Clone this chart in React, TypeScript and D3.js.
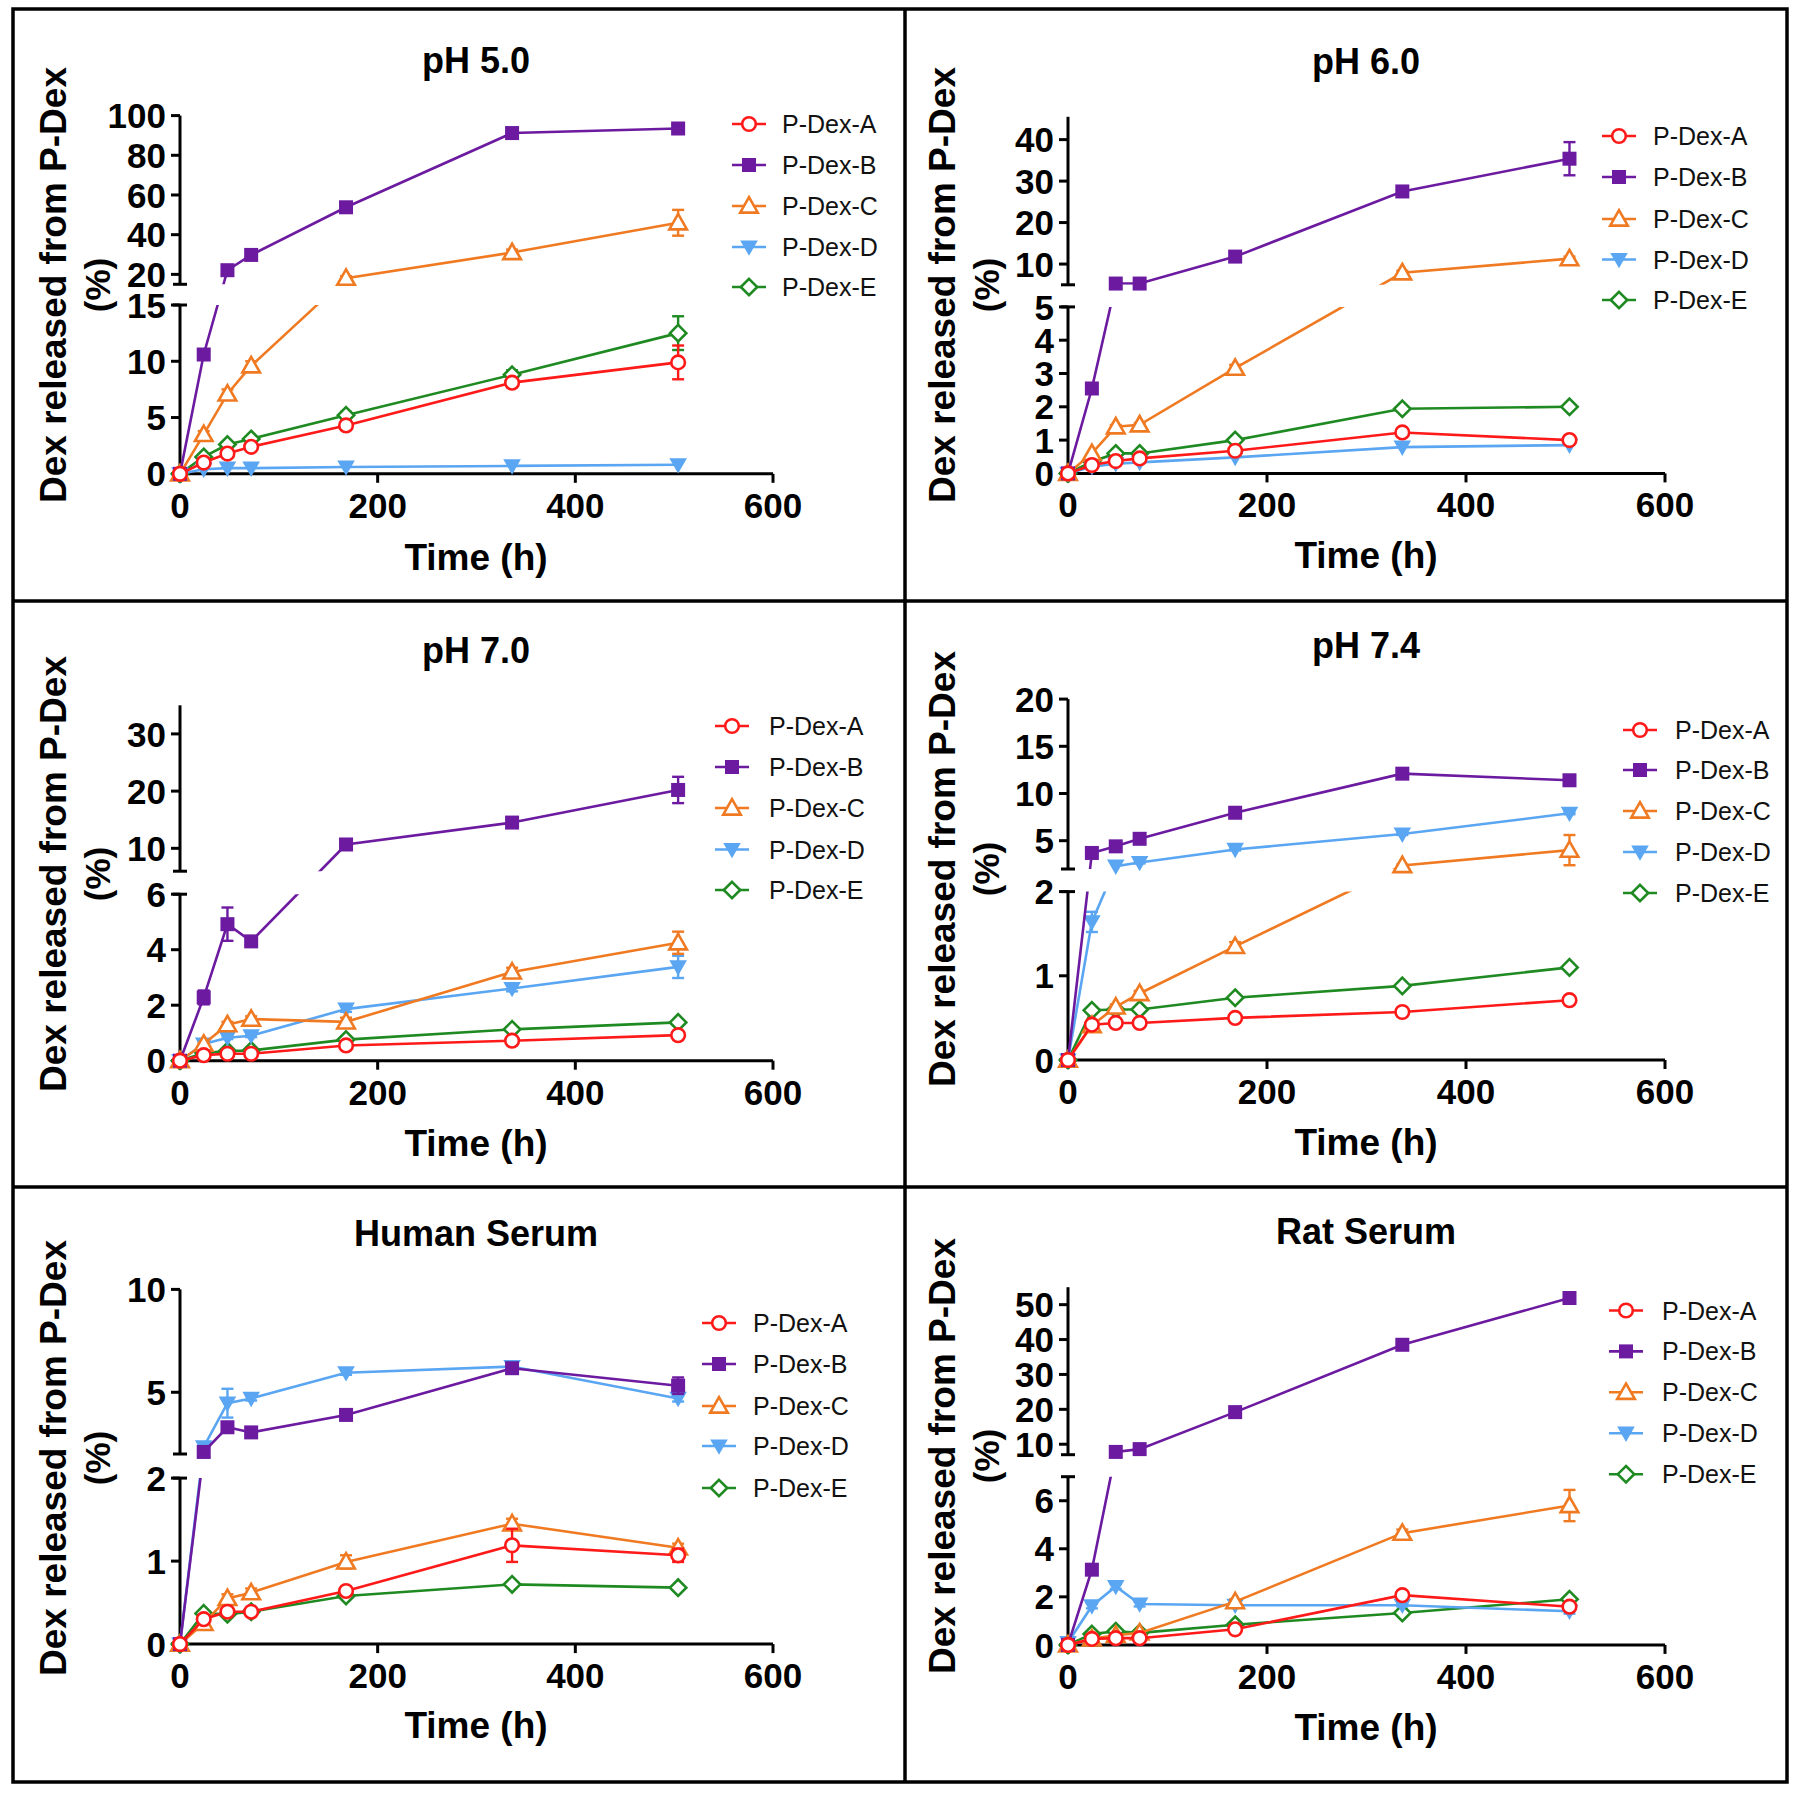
import React from "react";
import * as d3 from "d3";

// ---------- DATA ----------
const TIMES = [0, 24, 48, 72, 168, 336, 504];
const SERIES = ["P-Dex-A", "P-Dex-B", "P-Dex-C", "P-Dex-D", "P-Dex-E"];
const X_DOMAIN = [0, 600];
const X_TICKS = [0, 200, 400, 600];
const PANEL_TITLES = ["pH 5.0", "pH 6.0", "pH 7.0", "pH 7.4", "Human Serum", "Rat Serum"];
const Y_TITLE = "Dex released from P-Dex";
const Y_TITLE_2 = "(%)";
const X_TITLE = "Time (h)";

// pH 5.0
const PH50_VALUES = [
  [0, 1.0, 1.8, 2.4, 4.3, 8.1, 9.9],
  [0, 10.6, 22.1, 29.8, 53.8, 91.2, 93.5],
  [0, 3.5, 7.1, 9.6, 18.1, 31, 46],
  [0, 0.4, 0.5, 0.5, 0.6, 0.7, 0.8],
  [0, 1.5, 2.6, 3.1, 5.2, 8.8, 12.5],
];
const PH50_ERRORS = [
  [0, 0.2, 0.2, 0.2, 0.3, 0.4, 1.5],
  [0, 0.4, 1, 1, 1.5, 1.5, 1.5],
  [0, 0.3, 0.4, 0.4, 1, 1.5, 6.5],
  [0, 0, 0, 0, 0, 0, 0],
  [0, 0.2, 0.2, 0.2, 0.3, 0.4, 1.5],
];
const PH50_LOWER = [0, 15];
const PH50_UPPER = [15, 100];
const PH50_LOWER_TICKS = [0, 5, 10, 15];
const PH50_UPPER_TICKS = [20, 40, 60, 80, 100];

// pH 6.0
const PH60_VALUES = [
  [0, 0.25, 0.37, 0.45, 0.68, 1.23, 1.0],
  [0, 2.55, 5.3, 5.3, 11.8, 27.5, 35.4],
  [0, 0.6, 1.4, 1.46, 3.16, 7.9, 11.3],
  [0, 0.2, 0.29, 0.33, 0.48, 0.79, 0.85],
  [0, 0.35, 0.6, 0.6, 1.0, 1.94, 2.0],
];
const PH60_ERRORS = [
  [0, 0, 0, 0, 0, 0.05, 0.05],
  [0, 0.1, 0, 0, 0.5, 0.8, 4],
  [0, 0, 0.05, 0.05, 0.1, 0.5, 0.5],
  [0, 0, 0, 0, 0, 0, 0],
  [0, 0, 0, 0, 0, 0.05, 0.05],
];
const PH60_LOWER = [0, 5];
const PH60_UPPER = [5, 45.5];
const PH60_LOWER_TICKS = [0, 1, 2, 3, 4, 5];
const PH60_UPPER_TICKS = [10, 20, 30, 40];

// pH 7.0
const PH70_VALUES = [
  [0, 0.2, 0.25, 0.25, 0.55, 0.72, 0.92],
  [0, 2.28, 4.92, 4.3, 10.67, 14.5, 20.2],
  [0, 0.6, 1.3, 1.5, 1.4, 3.2, 4.25],
  [0, 0.6, 0.83, 0.9, 1.86, 2.6, 3.38],
  [0, 0.28, 0.35, 0.37, 0.76, 1.13, 1.38],
];
const PH70_ERRORS = [
  [0, 0, 0, 0, 0, 0.05, 0.05],
  [0, 0.25, 0.6, 0.1, 0.3, 0.4, 2.3],
  [0, 0.05, 0.1, 0.1, 0.15, 0.15, 0.4],
  [0, 0.05, 0.05, 0.05, 0.1, 0.1, 0.4],
  [0, 0, 0, 0, 0, 0.05, 0.05],
];
const PH70_LOWER = [0, 6];
const PH70_UPPER = [6, 35];
const PH70_LOWER_TICKS = [0, 2, 4, 6];
const PH70_UPPER_TICKS = [10, 20, 30];

// pH 7.4
const PH74_VALUES = [
  [0, 0.42, 0.44, 0.44, 0.5, 0.57, 0.71],
  [0, 3.7, 4.4, 5.2, 7.96, 12.1, 11.4],
  [0, 0.41, 0.63, 0.79, 1.35, 2.37, 4.0],
  [0, 1.64, 2.3, 2.69, 4.07, 5.7, 7.9],
  [0, 0.59, 0.6, 0.6, 0.74, 0.88, 1.1],
];
const PH74_ERRORS = [
  [0, 0, 0, 0, 0, 0, 0],
  [0, 0.1, 0.1, 0.1, 0.1, 0.2, 0.2],
  [0, 0.03, 0.03, 0.03, 0.05, 0.1, 1.6],
  [0, 0.12, 0, 0.1, 0.1, 0.1, 0.1],
  [0, 0, 0, 0, 0, 0, 0],
];
const PH74_LOWER = [0, 2];
const PH74_UPPER = [2, 20];
const PH74_LOWER_TICKS = [0, 1, 2];
const PH74_UPPER_TICKS = [5, 10, 15, 20];

// Human serum
const HS_VALUES = [
  [0, 0.3, 0.39, 0.39, 0.64, 1.19, 1.07],
  [0, 2.1, 3.3, 3.05, 3.9, 6.17, 5.32],
  [0, 0.25, 0.55, 0.62, 0.99, 1.45, 1.16],
  [0, 2.35, 4.47, 4.7, 5.95, 6.25, 4.7],
  [0, 0.37, 0.36, 0.39, 0.58, 0.72, 0.68],
];
const HS_ERRORS = [
  [0, 0.03, 0.03, 0.03, 0.03, 0.2, 0.08],
  [0, 0, 0.15, 0.1, 0.1, 0.15, 0.4],
  [0, 0.03, 0.05, 0.05, 0.08, 0.06, 0.05],
  [0, 0.1, 0.7, 0.1, 0.1, 0.1, 0.15],
  [0, 0, 0, 0, 0, 0, 0],
];
const HS_LOWER = [0, 2];
const HS_UPPER = [2, 10];
const HS_LOWER_TICKS = [0, 1, 2];
const HS_UPPER_TICKS = [5, 10];

// Rat serum
const RS_VALUES = [
  [0, 0.25, 0.28, 0.28, 0.65, 2.07, 1.59],
  [0, 3.13, 7.8, 8.6, 19.2, 38.5, 51.9],
  [0, 0.25, 0.4, 0.5, 1.8, 4.65, 5.8],
  [0.1, 1.62, 2.43, 1.7, 1.65, 1.65, 1.4],
  [0, 0.45, 0.57, 0.5, 0.84, 1.33, 1.9],
];
const RS_ERRORS = [
  [0, 0, 0, 0, 0.05, 0.1, 0.1],
  [0, 0.1, 0, 0.2, 0.3, 0.5, 0.6],
  [0, 0, 0.05, 0.05, 0.1, 0.15, 0.65],
  [0, 0.1, 0.1, 0.1, 0.05, 0.05, 0.1],
  [0, 0, 0, 0, 0.05, 0.05, 0.05],
];
const RS_LOWER = [0, 7];
const RS_UPPER = [7, 55];
const RS_LOWER_TICKS = [0, 2, 4, 6];
const RS_UPPER_TICKS = [10, 20, 30, 40, 50];

// ---------- STYLE / LAYOUT ----------
const COLORS = ["#ff1a1a", "#6c1aa0", "#f07a22", "#5aa6f2", "#1f8a22"];
const MARKERS = ["circle", "square", "triangleUp", "triangleDown", "diamond"];
const DRAW_ORDER = [4, 3, 2, 1, 0];
const FONT = "'Liberation Sans', Arial, Helvetica, sans-serif";

const LEFT = { axisX: 180, xEnd: 773, titleX: 476, yTitleX: [53, 97] };
const RIGHT = { axisX: 1068, xEnd: 1665, titleX: 1366, yTitleX: [942, 986] };

const PANELS = [
  {
    ...LEFT, values: PH50_VALUES, errors: PH50_ERRORS, lower: PH50_LOWER, upper: PH50_UPPER,
    lowerTicks: PH50_LOWER_TICKS, upperTicks: PH50_UPPER_TICKS,
    titleY: 73, y0: 473.8, lowTop: 305, upBottom: 284.3, upTop: 115.6,
    xTitleY: 570, yTitleY: 285, legX: 749, legTextX: 782, legY: [124, 165, 206, 247, 287],
  },
  {
    ...RIGHT, values: PH60_VALUES, errors: PH60_ERRORS, lower: PH60_LOWER, upper: PH60_UPPER,
    lowerTicks: PH60_LOWER_TICKS, upperTicks: PH60_UPPER_TICKS,
    titleY: 73.5, y0: 473.4, lowTop: 306.9, upBottom: 284.8, upTop: 116.8,
    xTitleY: 568, yTitleY: 285, legX: 1619, legTextX: 1653, legY: [136, 177, 219, 259.5, 300],
  },
  {
    ...LEFT, values: PH70_VALUES, errors: PH70_ERRORS, lower: PH70_LOWER, upper: PH70_UPPER,
    lowerTicks: PH70_LOWER_TICKS, upperTicks: PH70_UPPER_TICKS,
    titleY: 663, y0: 1060.7, lowTop: 894.2, upBottom: 871.2, upTop: 705.3,
    xTitleY: 1156, yTitleY: 874, legX: 732, legTextX: 769, legY: [726, 767, 808, 849.5, 890],
  },
  {
    ...RIGHT, values: PH74_VALUES, errors: PH74_ERRORS, lower: PH74_LOWER, upper: PH74_UPPER,
    lowerTicks: PH74_LOWER_TICKS, upperTicks: PH74_UPPER_TICKS,
    titleY: 658, y0: 1060, lowTop: 891.6, upBottom: 869, upTop: 699.1,
    xTitleY: 1154.5, yTitleY: 869, legX: 1640, legTextX: 1675, legY: [730, 770, 811, 852, 893],
  },
  {
    ...LEFT, values: HS_VALUES, errors: HS_ERRORS, lower: HS_LOWER, upper: HS_UPPER,
    lowerTicks: HS_LOWER_TICKS, upperTicks: HS_UPPER_TICKS,
    titleY: 1245.5, y0: 1644.1, lowTop: 1478.1, upBottom: 1454, upTop: 1289.4,
    xTitleY: 1738, yTitleY: 1458, legX: 719, legTextX: 753, legY: [1323, 1364, 1406, 1446, 1488],
  },
  {
    ...RIGHT, values: RS_VALUES, errors: RS_ERRORS, lower: RS_LOWER, upper: RS_UPPER,
    lowerTicks: RS_LOWER_TICKS, upperTicks: RS_UPPER_TICKS,
    titleY: 1243.5, y0: 1644.9, lowTop: 1476.7, upBottom: 1454.7, upTop: 1287.2,
    xTitleY: 1740, yTitleY: 1456, legX: 1626, legTextX: 1662, legY: [1310.5, 1351.4, 1392.3, 1433.2, 1474.2],
  },
];

function Marker({ type, x, y, color }: { type: string; x: number; y: number; color: string }) {
  const sw = 2.6;
  if (type === "circle") return <circle cx={x} cy={y} r={6.8} fill="#fff" stroke={color} strokeWidth={sw} />;
  if (type === "square") return <rect x={x - 7} y={y - 7} width={14} height={14} fill={color} />;
  if (type === "triangleUp") {
    const s = 8.8;
    return <path d={`M${x},${y - s}L${x + s},${y + s * 0.75}L${x - s},${y + s * 0.75}Z`} fill="#fff" stroke={color} strokeWidth={sw} strokeLinejoin="miter" />;
  }
  if (type === "triangleDown") {
    const s = 8.8;
    return <path d={`M${x - s},${y - s * 0.75}L${x + s},${y - s * 0.75}L${x},${y + s}Z`} fill={color} />;
  }
  const s = 8.2;
  return <path d={`M${x},${y - s}L${x + s},${y}L${x},${y + s}L${x - s},${y}Z`} fill="#fff" stroke={color} strokeWidth={sw} />;
}

function Panel({ p, idx }: { p: any; idx: number }) {
  const x = d3.scaleLinear().domain(X_DOMAIN).range([p.axisX, p.xEnd]);
  const lo = d3.scaleLinear().domain(p.lower).range([p.y0, p.lowTop]);
  const hi = d3.scaleLinear().domain(p.upper).range([p.upBottom, p.upTop]);
  const y = (v: number) => (v <= p.lower[1] ? lo(v) : hi(v));
  const clipId = `clip${idx}`;
  const line = d3
    .line<number>()
    .x((_, i) => x(TIMES[i]))
    .y((v) => y(v));
  const ax = p.axisX;
  const bold = { fontFamily: FONT, fontWeight: 700, fill: "#000" } as any;
  const cap = 6;

  return (
    <g>
      <defs>
        <clipPath id={clipId} clipPathUnits="userSpaceOnUse">
          <rect x={ax - 30} y={p.upTop - 200} width={800} height={p.upBottom - (p.upTop - 200)} />
          <rect x={ax - 30} y={p.lowTop} width={800} height={p.y0 + 100 - p.lowTop} />
        </clipPath>
      </defs>

      {/* title */}
      <text x={p.titleX} y={p.titleY} textAnchor="middle" fontSize={36} {...bold}>
        {PANEL_TITLES[idx]}
      </text>

      {/* y axis title */}
      <text transform={`translate(${p.yTitleX[0]},${p.yTitleY}) rotate(-90)`} textAnchor="middle" dy="0.36em" fontSize={37} {...bold}>
        {Y_TITLE}
      </text>
      <text transform={`translate(${p.yTitleX[1]},${p.yTitleY}) rotate(-90)`} textAnchor="middle" dy="0.36em" fontSize={35} {...bold}>
        {Y_TITLE_2}
      </text>

      {/* x axis */}
      <line x1={ax} x2={p.xEnd} y1={p.y0} y2={p.y0} stroke="#000" strokeWidth={3} />
      {X_TICKS.map((t) => (
        <g key={t}>
          <line x1={x(t)} x2={x(t)} y1={p.y0} y2={p.y0 + 9} stroke="#000" strokeWidth={3} />
          <text x={x(t)} y={p.y0 + 44} textAnchor="middle" fontSize={35} {...bold}>
            {t}
          </text>
        </g>
      ))}
      <text x={p.titleX} y={p.xTitleY} textAnchor="middle" fontSize={37} {...bold}>
        {X_TITLE}
      </text>

      {/* y axis, lower and upper segments */}
      <line x1={ax} x2={ax} y1={p.y0 + 1.5} y2={p.lowTop} stroke="#000" strokeWidth={3} />
      <line x1={ax} x2={ax} y1={p.upBottom} y2={p.upTop} stroke="#000" strokeWidth={3} />
      <line x1={ax - 7} x2={ax + 7} y1={p.lowTop} y2={p.lowTop} stroke="#000" strokeWidth={3} />
      <line x1={ax - 7} x2={ax + 7} y1={p.upBottom} y2={p.upBottom} stroke="#000" strokeWidth={3} />
      {p.lowerTicks.map((t: number) => (
        <g key={"l" + t}>
          <line x1={ax - 9} x2={ax} y1={lo(t)} y2={lo(t)} stroke="#000" strokeWidth={3} />
          <text x={ax - 14} y={lo(t)} dy="0.36em" textAnchor="end" fontSize={35} {...bold}>
            {t}
          </text>
        </g>
      ))}
      {p.upperTicks.map((t: number) => (
        <g key={"u" + t}>
          <line x1={ax - 9} x2={ax} y1={hi(t)} y2={hi(t)} stroke="#000" strokeWidth={3} />
          <text x={ax - 14} y={hi(t)} dy="0.36em" textAnchor="end" fontSize={35} {...bold}>
            {t}
          </text>
        </g>
      ))}

      {/* series */}
      {DRAW_ORDER.map((si) => {
        const s = SERIES[si];
        const vals: number[] = p.values[si];
        const errs: number[] = p.errors[si];
        const c = COLORS[si];
        return (
          <g key={s}>
            <path d={line(vals) || ""} fill="none" stroke={c} strokeWidth={2.6} clipPath={`url(#${clipId})`} />
            {vals.map((v, i) =>
              errs[i] > 0 ? (
                <g key={"e" + i} stroke={c} strokeWidth={2.4}>
                  <line x1={x(TIMES[i])} x2={x(TIMES[i])} y1={y(v - errs[i])} y2={y(v + errs[i])} />
                  <line x1={x(TIMES[i]) - cap} x2={x(TIMES[i]) + cap} y1={y(v + errs[i])} y2={y(v + errs[i])} />
                  <line x1={x(TIMES[i]) - cap} x2={x(TIMES[i]) + cap} y1={y(v - errs[i])} y2={y(v - errs[i])} />
                </g>
              ) : null
            )}
            {vals.map((v, i) => (
              <Marker key={i} type={MARKERS[si]} x={x(TIMES[i])} y={y(v)} color={c} />
            ))}
          </g>
        );
      })}

      {/* legend */}
      {SERIES.map((s, si) => (
        <g key={"lg" + s}>
          <line x1={p.legX - 17} x2={p.legX + 17} y1={p.legY[si]} y2={p.legY[si]} stroke={COLORS[si]} strokeWidth={2.6} />
          <Marker type={MARKERS[si]} x={p.legX} y={p.legY[si]} color={COLORS[si]} />
          <text x={p.legTextX} y={p.legY[si]} dy="0.36em" fontSize={25} fontFamily={FONT} fill="#111">
            {s}
          </text>
        </g>
      ))}
    </g>
  );
}

export default function App() {
  return (
    <svg
      width={1800}
      height={1796}
      viewBox="0 0 1800 1796"
      style={{ position: "absolute", left: 0, top: 0, background: "#fff" }}
    >
      <rect x={0} y={0} width={1800} height={1796} fill="#fff" />
      {PANELS.map((p, i) => (
        <Panel key={i} p={p} idx={i} />
      ))}
      {/* panel frame */}
      <rect x={13} y={9} width={1774} height={1773} fill="none" stroke="#000" strokeWidth={3.5} />
      <line x1={905} x2={905} y1={9} y2={1782} stroke="#000" strokeWidth={3.5} />
      <line x1={13} x2={1787} y1={601} y2={601} stroke="#000" strokeWidth={3.5} />
      <line x1={13} x2={1787} y1={1187} y2={1187} stroke="#000" strokeWidth={3.5} />
    </svg>
  );
}
